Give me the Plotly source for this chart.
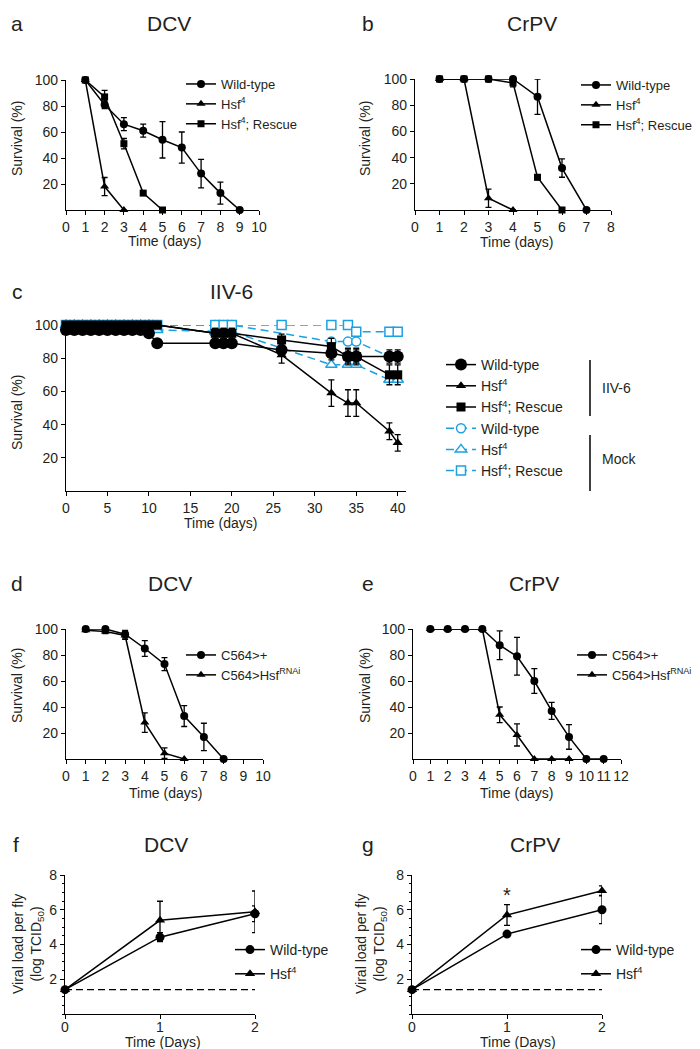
import plotly.graph_objects as go

W, H = 700, 1049
FONT = "Liberation Sans, Arial, Helvetica, sans-serif"
TXT = "#231f20"
BLUE = "#1ba1e2"

# ---------------- data ----------------
# Panel a (DCV)
a_wt_days = [1, 2, 3, 4, 5, 6, 7, 8, 9]
a_wt = [100, 81, 66, 61, 54, 48, 28, 13, 0]
a_wt_err = [0, 3, 5, 5, 14, 12, 11, 8.5, 0]
a_hsf_days = [1, 2, 3]
a_hsf = [100, 18, 0]
a_hsf_err = [0, 7, 0]
a_res_days = [1, 2, 3, 4, 5]
a_res = [100, 87, 51, 13, 0]
a_res_err = [0, 5, 4, 1, 0]

# Panel b (CrPV)
b_wt_days = [1, 2, 3, 4, 5, 6, 7]
b_wt = [100, 100, 100, 100, 86.5, 32, 0]
b_wt_err = [0, 0, 0, 0, 13.5, 7, 0]
b_hsf_days = [1, 2, 3, 4]
b_hsf = [100, 100, 9, 0]
b_hsf_err = [0, 0, 7, 0]
b_res_days = [1, 2, 3, 4, 5, 6]
b_res = [100, 100, 100, 97, 25, 0]
b_res_err = [0, 0, 0, 3, 2, 0]

# Panel c (IIV-6)
c_days = [0, 1, 2, 3, 4, 5, 6, 7, 8, 9, 10, 11, 18, 19, 20, 26, 32, 34, 35, 39, 40]
c_wt = [97, 97, 97, 97, 97, 97, 97, 97, 97, 97, 95, 89, 89, 89, 89, 85, 83, 81, 81, 81, 81]
c_wt_err = [0, 0, 0, 0, 0, 0, 0, 0, 0, 0, 0, 0, 2, 2, 2, 3, 4, 4, 4, 4, 4]
c_hsf = [100, 100, 100, 100, 100, 100, 100, 100, 100, 100, 100, 100, 95, 95, 95, 82, 59, 53, 53, 36, 29]
c_hsf_err = [0, 0, 0, 0, 0, 0, 0, 0, 0, 0, 0, 0, 3, 3, 3, 5, 8, 8, 8, 5, 5]
c_res = [100, 100, 100, 100, 100, 100, 100, 100, 100, 100, 100, 100, 95, 95, 95, 91, 87, 81, 81, 70, 70]
c_res_err = [0, 0, 0, 0, 0, 0, 0, 0, 0, 0, 0, 0, 3, 3, 3, 3.5, 5, 5, 5, 6, 6]
c_mock_wt_days = [0, 1, 2, 3, 4, 5, 6, 7, 8, 9, 10, 11, 18, 19, 20, 32, 34, 35, 39, 40]
c_mock_wt = [100, 100, 100, 100, 100, 100, 100, 100, 100, 100, 100, 100, 100, 100, 100, 90, 90, 90, 81, 81]
c_mock_hsf_days = [0, 1, 2, 3, 4, 5, 6, 7, 8, 9, 10, 11, 18, 19, 20, 32, 34, 35, 39, 40]
c_mock_hsf = [100, 100, 100, 100, 100, 100, 100, 100, 100, 100, 100, 97, 96, 96, 96, 76, 76, 76, 67, 67]
c_mock_res_days = [0, 1, 2, 3, 4, 5, 6, 7, 8, 9, 10, 11, 18, 19, 20, 26, 32, 34, 35, 39, 40]
c_mock_res = [100, 100, 100, 100, 100, 100, 100, 100, 100, 100, 100, 100, 100, 100, 100, 100, 100, 100, 96, 96, 96]

# Panel d (DCV, C564)
d_ctl_days = [1, 2, 3, 4, 5, 6, 7, 8]
d_ctl = [100, 100, 96, 85, 73, 33, 17, 0]
d_ctl_err = [0, 0, 3, 6, 5, 8, 10.5, 0]
d_rnai_days = [1, 2, 3, 4, 5, 6]
d_rnai = [99, 98, 95, 28, 4.5, 0]
d_rnai_err = [0, 1.5, 3, 7.5, 4, 0]

# Panel e (CrPV, C564)
e_ctl_days = [1, 2, 3, 4, 5, 6, 7, 8, 9, 10, 11]
e_ctl = [100, 100, 100, 100, 87.5, 79, 60, 37, 17, 0, 0]
e_ctl_err = [0, 0, 0, 0, 11, 14.5, 9.5, 6.5, 9.5, 0, 0]
e_rnai_days = [1, 2, 3, 4, 5, 6, 7, 8, 9]
e_rnai = [100, 100, 100, 100, 34, 18.5, 0, 0, 0]
e_rnai_err = [0, 0, 0, 0, 6, 8.5, 0, 0, 0]

# Panels f, g (viral load)
load_days = [0, 1, 2]
f_wt = [1.4, 4.42, 5.77]
f_wt_err = [0, 0.26, 0.45]
f_hsf = [1.4, 5.39, 5.88]
f_hsf_err = [0, 1.1, 1.2]
g_wt = [1.4, 4.6, 6.0]
g_wt_err = [0, 0.05, 0.8]
g_hsf = [1.4, 5.7, 7.1]
g_hsf_err = [0, 0.6, 0.27]
lod_days = [0, 2]
lod = [1.4, 1.4]

# tick labels
surv_ticks = [20, 40, 60, 80, 100]
load_ticks = [2, 4, 6, 8]


def px(x):
    return x / W


def py(y):
    return 1 - y / H


fig = go.Figure()


def add(x, y, err, name, symbol, size, n, color="black", dash="solid",
        fill=None, rank=None, group=None):
    xa = "x" if n == 1 else f"x{n}"
    ya = "y" if n == 1 else f"y{n}"
    lg = "legend" if n == 1 else f"legend{n}"
    kw = {}
    if rank is not None:
        kw["legendrank"] = rank
    if group is not None:
        kw["legendgroup"] = group
    fig.add_trace(go.Scatter(
        x=x, y=y, mode="lines+markers", name=name,
        line=dict(color=color, width=1.5, dash=dash),
        marker=dict(symbol=symbol, size=size,
                    color=fill if fill else color,
                    line=dict(color=color, width=1.5 if fill else 0)),
        error_y=dict(type="data", array=err, visible=err is not None,
                     color="black", thickness=1.3, width=3),
        xaxis=xa, yaxis=ya, legend=lg, cliponaxis=False, **kw))


H4 = "Hsf<sup>4</sup>"
H4R = "Hsf<sup>4</sup>; Rescue"
RNAI = "C564>Hsf<sup>RNAi</sup>"

# a
add(a_wt_days, a_wt, a_wt_err, "Wild-type", "circle", 8, 1)
add(a_hsf_days, a_hsf, a_hsf_err, H4, "triangle-up", 8, 1)
add(a_res_days, a_res, a_res_err, H4R, "square", 7, 1)
# b
add(b_wt_days, b_wt, b_wt_err, "Wild-type", "circle", 8, 2)
add(b_hsf_days, b_hsf, b_hsf_err, H4, "triangle-up", 8, 2)
add(b_res_days, b_res, b_res_err, H4R, "square", 7, 2)
# c (mock drawn first, listed last)
DASH = "8px,5px"
add(c_mock_wt_days, c_mock_wt, None, "Wild-type", "circle", 9, 3, color=BLUE, dash=DASH, fill="white", rank=4)
add(c_mock_hsf_days, c_mock_hsf, None, H4, "triangle-up", 10, 3, color=BLUE, dash=DASH, fill="white", rank=5)
add(c_mock_res_days, c_mock_res, None, H4R, "square", 9, 3, color=BLUE, dash=DASH, fill="white", rank=6)
add(c_days, c_wt, c_wt_err, "Wild-type", "circle", 12, 3, rank=1)
add(c_days, c_hsf, c_hsf_err, H4, "triangle-up", 9, 3, rank=2)
add(c_days, c_res, c_res_err, H4R, "square", 9, 3, rank=3)
# d
add(d_ctl_days, d_ctl, d_ctl_err, "C564>+", "circle", 8, 4)
add(d_rnai_days, d_rnai, d_rnai_err, RNAI, "triangle-up", 8, 4)
# e
add(e_ctl_days, e_ctl, e_ctl_err, "C564>+", "circle", 8, 5)
add(e_rnai_days, e_rnai, e_rnai_err, RNAI, "triangle-up", 8, 5)
# f, g
for n, wt, wte, hs, hse in [(6, f_wt, f_wt_err, f_hsf, f_hsf_err),
                            (7, g_wt, g_wt_err, g_hsf, g_hsf_err)]:
    fig.add_trace(go.Scatter(x=lod_days, y=lod, mode="lines",
                             line=dict(color="black", width=1.3, dash="7px,4px"),
                             xaxis=f"x{n}", yaxis=f"y{n}", showlegend=False,
                             cliponaxis=False, hoverinfo="skip"))
    add(load_days, wt, wte, "Wild-type", "circle", 9, n, group=f"wt{n}")
    add(load_days, hs, hse, H4, "triangle-up", 9, n, group=f"hsf{n}")


# ---------------- axes ----------------
def xax(d0, d1, rng, tickvals, anchor, standoff=None):
    d = dict(domain=[px(d0), px(d1)], range=rng, anchor=anchor, showline=True,
             linecolor="black", linewidth=1.3, ticks="outside", ticklen=4,
             tickwidth=1.3, tickcolor="black", tickvals=tickvals,
             showgrid=False, zeroline=False, fixedrange=True,
             tickfont=dict(size=14, family=FONT, color=TXT))
    if standoff is not None:
        d["ticklabelstandoff"] = standoff
    return d


def yax(t, b, rng, tickvals, anchor, minor=None):
    d = dict(domain=[py(b), py(t)], range=rng, anchor=anchor, showline=True,
             linecolor="black", linewidth=1.3, ticks="outside", ticklen=4,
             tickwidth=1.3, tickcolor="black", tickvals=tickvals,
             showgrid=False, zeroline=False, fixedrange=True,
             tickfont=dict(size=14, family=FONT, color=TXT))
    if minor:
        d["minor"] = minor
    return d


days10 = list(range(0, 11))
days8 = list(range(0, 9))
days12 = list(range(0, 13))
days40 = list(range(0, 41, 5))
minor = dict(dtick=0.5, ticklen=2, tickcolor="black", tickwidth=1, ticks="outside")

layout = dict(
    xaxis=xax(58, 251, [0, 10], days10, "y"),
    yaxis=yax(72, 202, [0, 100], surv_ticks, "x"),
    xaxis2=xax(407, 603, [0, 8], days8, "y2"),
    yaxis2=yax(71, 202, [0, 100], surv_ticks, "x2"),
    xaxis3=xax(58, 398, [0, 41], days40, "y3"),
    yaxis3=yax(317, 483, [0, 100], surv_ticks, "x3"),
    xaxis4=xax(58, 255, [0, 10], days10, "y4"),
    yaxis4=yax(621, 751, [0, 100], surv_ticks, "x4"),
    xaxis5=xax(405, 613, [0, 12], days12, "y5"),
    yaxis5=yax(621, 751, [0, 100], surv_ticks, "x5"),
    xaxis6=xax(57, 247, [0, 2], load_days, "y6", standoff=-4),
    yaxis6=yax(867, 1006, [0, 8], load_ticks, "x6", minor),
    xaxis7=xax(404, 594, [0, 2], load_days, "y7", standoff=-4),
    yaxis7=yax(867, 1006, [0, 8], load_ticks, "x7", minor),
)


def leg(x, y, size=14, gap=0, order="normal"):
    return dict(x=px(x), y=py(y), xanchor="left", yanchor="top",
                bgcolor="rgba(0,0,0,0)", font=dict(size=size, family=FONT, color=TXT),
                itemwidth=30, tracegroupgap=gap, traceorder=order)


layout.update(
    legend=leg(173, 61, 13),
    legend2=leg(568, 62, 13),
    legend3=leg(433, 341, 14),
    legend4=leg(173, 632, 13),
    legend5=leg(564, 632, 13),
    legend6=leg(222, 926, 14, gap=3, order="grouped"),
    legend7=leg(568, 926, 14, gap=3, order="grouped"),
)

anns = []


def ann(text, x, y, size=14, angle=0, xanchor="center"):
    anns.append(dict(text=text, x=px(x), y=py(y), xref="paper", yref="paper",
                     showarrow=False, xanchor=xanchor, yanchor="middle",
                     textangle=angle, font=dict(size=size, family=FONT, color=TXT)))


# panel letters and titles
for letter, lx, ly, title, tx in [("a", 9, 15, "DCV", 161), ("b", 360, 15, "CrPV", 524),
                                  ("c", 9, 283, "IIV-6", 223), ("d", 9, 575, "DCV", 162),
                                  ("e", 360, 575, "CrPV", 526), ("f", 8, 836, "DCV", 158),
                                  ("g", 360, 836, "CrPV", 527)]:
    ann(letter, lx, ly, 21)
    ann(title, tx, ly, 21)

# axis titles
for x, y in [(156, 233), (509, 234), (212, 515), (157, 785), (509, 785)]:
    ann("Time (days)", x, y)
for x, y in [(155, 1034), (510, 1034)]:
    ann("Time (Days)", x, y)
for x, y in [(9, 131), (357, 131), (9, 405), (9, 678), (357, 678)]:
    ann("Survival (%)", x, y, angle=-90)
for x, y in [(20, 936), (363, 936)]:
    ann("Viral load per fly<br>(log TCID<sub>50</sub>)", x, y, angle=-90)

# c legend group labels
ann("IIV-6", 592, 380, xanchor="left")
ann("Mock", 592, 451, xanchor="left")

# asterisk in g
anns.append(dict(text="*", x=1, y=6.85, xref="x7", yref="y7", showarrow=False,
                 yanchor="middle", font=dict(size=20, family=FONT, color=TXT)))

shapes = [
    dict(type="line", xref="paper", yref="paper", x0=px(582), x1=px(582),
         y0=py(352), y1=py(408), line=dict(color="black", width=1.5)),
    dict(type="line", xref="paper", yref="paper", x0=px(582), x1=px(582),
         y0=py(427), y1=py(483), line=dict(color="black", width=1.5)),
]

fig.update_layout(**layout)
fig.update_layout(
    width=W, height=H, margin=dict(l=0, r=0, t=0, b=0, autoexpand=False),
    paper_bgcolor="white", plot_bgcolor="white",
    font=dict(family=FONT, color=TXT, size=14),
    annotations=anns, shapes=shapes, hovermode=False,
)

fig.write_html("out.html")
